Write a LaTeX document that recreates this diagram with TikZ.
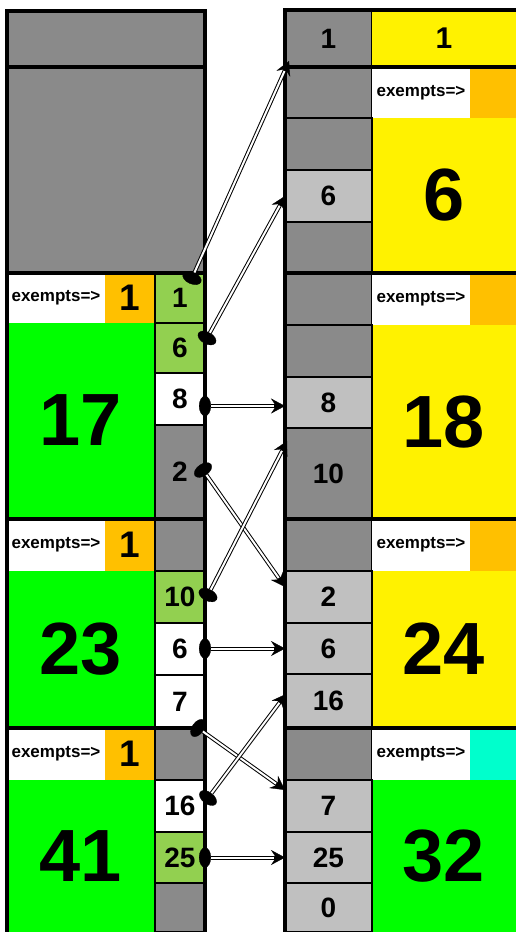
\documentclass[tikz,border=0pt]{standalone}
\usepackage{fontspec}
\setmainfont{Liberation Sans}
\usetikzlibrary{arrows.meta}

\definecolor{hatchgray}{RGB}{138,138,138}
\definecolor{slotgray}{RGB}{192,192,192}
\definecolor{leafgreen}{RGB}{146,208,80}
\definecolor{exorange}{RGB}{255,192,0}
\definecolor{exaqua}{RGB}{0,255,204}

\begin{document}
\begin{tikzpicture}[
    x=1pt, y=-1pt,
    every node/.style={inner sep=0pt, outer sep=0pt, font=\bfseries},
    slot/.style={draw, line width=1.2pt, minimum width=50pt, font=\bfseries\fontsize{28}{28}\selectfont},
    rslot/.style={slot, minimum width=87pt},
    exlabel/.style={fill=white, minimum width=98pt, minimum height=51pt, font=\bfseries\fontsize{17}{17}\selectfont},
    excount/.style={minimum width=50pt, minimum height=51pt, font=\bfseries\fontsize{37}{37}\selectfont},
    bignum/.style={font=\bfseries\fontsize{74}{74}\selectfont},
    frame/.style={line width=3.5pt},
    link/.style={line width=4pt, shorten <=-6pt,
      {Ellipse[length=12pt, width=20pt, line width=0.3pt]}-{Stealth[length=14pt, width=15pt, inset=5pt, line width=0.3pt]},
      postaction={draw=white, line width=2pt, -, shorten <=6pt, shorten >=11pt}}
  ]
  \useasboundingbox (0,0) rectangle (516,932);

  % --- 1. 左側：上段の空き領域 ---
  \fill[hatchgray] (7,10) rectangle (205,273);

  % --- 2. 左側：ブロック 17 ---
  \node[exlabel, minimum height=50pt] (exA) at (56,298) {exempts=>};
  \node[excount, fill=exorange, minimum height=50pt] (cntA) at (130,298) {1};
  \node[bignum, fill=green, minimum width=148pt, minimum height=195pt] (b17) at (81,420.5) {17};
  \node[slot, fill=leafgreen, minimum height=50pt] (L1) at (180,298) {1};
  \node[slot, fill=leafgreen, minimum height=50pt] (L6) at (180,348) {6};
  \node[slot, fill=white, minimum height=52pt] (L8) at (180,399) {8};
  \node[slot, fill=hatchgray, minimum height=93pt] (L2) at (180,471.5) {2};

  % --- 3. 左側：ブロック 23 ---
  \node[exlabel, minimum height=52pt] (exB) at (56,545) {exempts=>};
  \node[excount, fill=exorange, minimum height=52pt] (cntB) at (130,545) {1};
  \node[slot, fill=hatchgray, minimum height=52pt] (LgB) at (180,545) {};
  \node[bignum, fill=green, minimum width=148pt, minimum height=157pt] (b23) at (81,649.5) {23};
  \node[slot, fill=leafgreen, minimum height=52pt] (L10) at (180,597) {10};
  \node[slot, fill=white, minimum height=52pt] (L6b) at (180,649) {6};
  \node[slot, fill=white, minimum height=53pt] (L7) at (180,701.5) {7};

  % --- 4. 左側：ブロック 41 ---
  \node[exlabel, minimum height=52pt] (exC) at (56,754) {exempts=>};
  \node[excount, fill=exorange, minimum height=52pt] (cntC) at (130,754) {1};
  \node[slot, fill=hatchgray, minimum height=52pt] (LgC) at (180,754) {};
  \node[bignum, fill=green, minimum width=148pt, minimum height=152pt] (b41) at (81,856) {41};
  \node[slot, fill=white, minimum height=52pt] (L16) at (180,806) {16};
  \node[slot, fill=leafgreen, minimum height=51pt] (L25) at (180,857.5) {25};
  \node[slot, fill=hatchgray, minimum height=49pt] (LgD) at (180,907.5) {};

  % --- 5. 右側：ブロック 1 / 6 ---
  \node[rslot, fill=hatchgray, minimum height=57pt] (R1) at (328.5,38.5) {1};
  \node[fill=yellow, minimum width=144pt, minimum height=57pt,
        font=\bfseries\fontsize{30}{30}\selectfont] (y1) at (444,38.5) {1};
  \node[rslot, fill=hatchgray, minimum height=51pt] (RgA) at (328.5,92.5) {};
  \node[exlabel] (exD) at (421,92.5) {exempts=>};
  \node[excount, fill=exorange, minimum width=46pt] (cntD) at (493,92.5) {};
  \node[bignum, fill=yellow, minimum width=144pt, minimum height=155pt] (b6) at (444,195.5) {6};
  \node[rslot, fill=hatchgray, minimum height=52pt] (RgB) at (328.5,144) {};
  \node[rslot, fill=slotgray, minimum height=52pt] (R6) at (328.5,196) {6};
  \node[rslot, fill=hatchgray, minimum height=51pt] (RgC) at (328.5,247.5) {};

  % --- 6. 右側：ブロック 18 ---
  \node[rslot, fill=hatchgray, minimum height=52pt] (RgD) at (328.5,299) {};
  \node[exlabel, minimum height=52pt] (exE) at (421,299) {exempts=>};
  \node[excount, fill=exorange, minimum width=46pt, minimum height=52pt] (cntE) at (493,299) {};
  \node[bignum, fill=yellow, minimum width=144pt, minimum height=194pt] (b18) at (444,422) {18};
  \node[rslot, fill=hatchgray, minimum height=52pt] (RgE) at (328.5,351) {};
  \node[rslot, fill=slotgray, minimum height=51pt] (R8) at (328.5,402.5) {8};
  \node[rslot, fill=hatchgray, minimum height=91pt] (R10) at (328.5,473.5) {10};

  % --- 7. 右側：ブロック 24 ---
  \node[rslot, fill=hatchgray, minimum height=52pt] (RgF) at (328.5,545) {};
  \node[exlabel, minimum height=52pt] (exF) at (421,545) {exempts=>};
  \node[excount, fill=exorange, minimum width=46pt, minimum height=52pt] (cntF) at (493,545) {};
  \node[bignum, fill=yellow, minimum width=144pt, minimum height=156pt] (b24) at (444,649) {24};
  \node[rslot, fill=slotgray, minimum height=52pt] (R2) at (328.5,597) {2};
  \node[rslot, fill=slotgray, minimum height=51pt] (R6b) at (328.5,648.5) {6};
  \node[rslot, fill=slotgray, minimum height=53pt] (R16) at (328.5,700.5) {16};

  % --- 8. 右側：ブロック 32 ---
  \node[rslot, fill=hatchgray, minimum height=52pt] (RgG) at (328.5,754) {};
  \node[exlabel, minimum height=52pt] (exG) at (421,754) {exempts=>};
  \node[excount, fill=exaqua, minimum width=46pt, minimum height=52pt] (cntG) at (493,754) {};
  \node[bignum, fill=green, minimum width=144pt, minimum height=152pt] (b32) at (444,856) {32};
  \node[rslot, fill=slotgray, minimum height=52pt] (R7) at (328.5,806) {7};
  \node[rslot, fill=slotgray, minimum height=51pt] (R25) at (328.5,857.5) {25};
  \node[rslot, fill=slotgray, minimum height=49pt] (R0) at (328.5,907.5) {0};

  % --- 9. 太枠 ---
  \draw[frame] (7,932) -- (7,11) -- (205,11) -- (205,932);
  \draw[frame] (285,932) -- (285,10) -- (516,10);
  \foreach \yy in {67,273,519,728} {
    \draw[frame] (7,\yy) -- (205,\yy);
    \draw[frame] (285,\yy) -- (516,\yy);
  }

  % --- 10. 対応の矢印 ---
  \draw[link] ([shift={(-13,5)}]L1.north east) -- ([shift={(4,-6)}]R1.south west);
  \draw[link] ([shift={(2,-10)}]L6.east) -- (R6.west);
  \draw[link] ([shift={(0,7)}]L8.east) -- ([shift={(0,3.5)}]R8.west);
  \draw[link] ([shift={(-2,-1.5)}]L2.east) -- ([shift={(0,-10)}]R2.west);
  \draw[link] ([shift={(3,-2)}]L10.east) -- ([shift={(2,-32.5)}]R10.west);
  \draw[link] ([shift={(0,-0.5)}]L6b.east) -- (R6b.west);
  \draw[link] ([shift={(-7,0)}]L7.south east) -- ([shift={(0,10)}]R7.north west);
  \draw[link] ([shift={(3,-8)}]L16.east) -- ([shift={(1,-6.5)}]R16.west);
  \draw[link] (L25.east) -- (R25.west);

\end{tikzpicture}
\end{document}
